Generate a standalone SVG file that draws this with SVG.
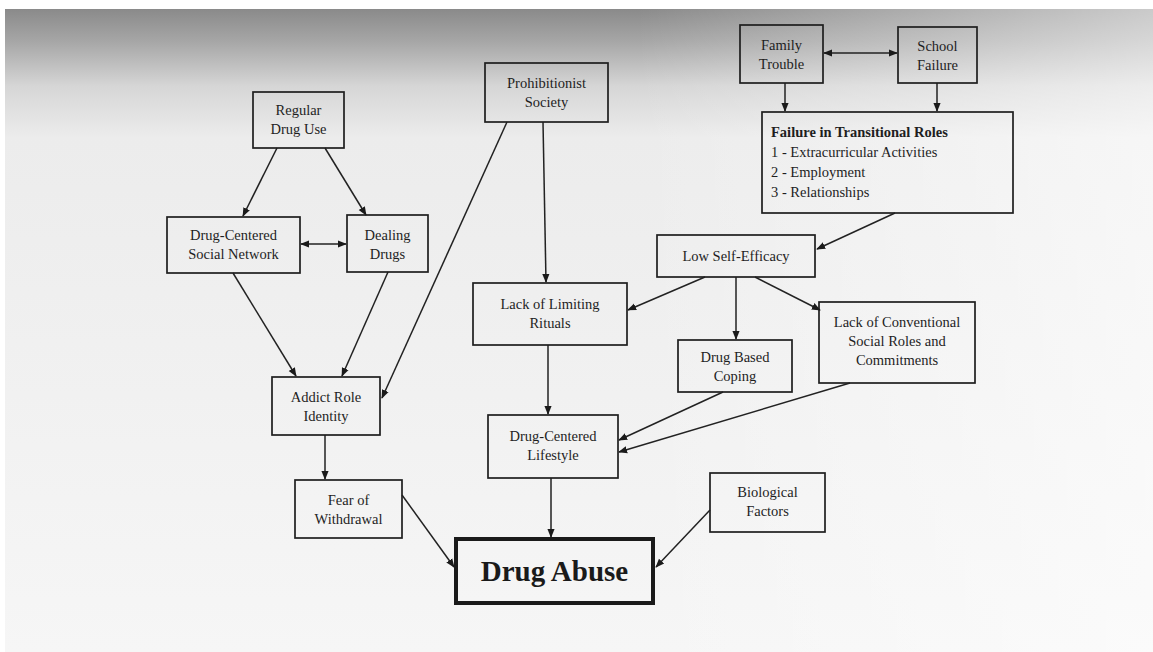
<svg xmlns="http://www.w3.org/2000/svg" width="1153" height="652" viewBox="0 0 1153 652">
<defs>
<linearGradient id="bgv" x1="0" y1="0" x2="0" y2="1">
<stop offset="0" stop-color="#8a8a8a"/>
<stop offset="0.05" stop-color="#a6a6a6"/>
<stop offset="0.12" stop-color="#d6d6d6"/>
<stop offset="0.2" stop-color="#ececec"/>
<stop offset="1" stop-color="#f6f6f6"/>
</linearGradient>
<linearGradient id="bgh" x1="0" y1="0" x2="1" y2="0">
<stop offset="0" stop-color="#ffffff" stop-opacity="0"/>
<stop offset="0.55" stop-color="#ffffff" stop-opacity="0"/>
<stop offset="1" stop-color="#ffffff" stop-opacity="0.55"/>
</linearGradient>
<marker id="ah" viewBox="0 0 10 10" refX="9" refY="5" markerWidth="9" markerHeight="9" markerUnits="userSpaceOnUse" orient="auto-start-reverse">
<path d="M0,1 L10,5 L0,9 Z" fill="#1a1a1a"/>
</marker>
<style>
.box{fill:none;stroke:#1e1e1e;stroke-width:1.7}
.big{fill:none;stroke:#1a1a1a;stroke-width:4}
.t{font-family:"Liberation Serif","Times New Roman",serif;font-size:14.5px;fill:#1e1e1e;text-anchor:middle}
.tl{font-family:"Liberation Serif","Times New Roman",serif;font-size:14.5px;fill:#1e1e1e}
.tb{font-weight:bold}
.huge{font-family:"Liberation Serif","Times New Roman",serif;font-size:29px;font-weight:bold;fill:#1a1a1a;text-anchor:middle}
.c{fill:none;stroke:#222;stroke-width:1.5;marker-end:url(#ah)}
.d{fill:none;stroke:#222;stroke-width:1.5;marker-end:url(#ah);marker-start:url(#ah)}
</style>
</defs>
<rect x="0" y="0" width="1153" height="652" fill="#ffffff"/>
<rect x="5" y="9" width="1148" height="643" fill="url(#bgv)"/>
<rect x="5" y="9" width="1148" height="643" fill="url(#bgh)"/>

<g id="connectors">
<line class="c" x1="277" y1="148" x2="243" y2="216"/>
<line class="c" x1="325" y1="148" x2="366" y2="215"/>
<line class="d" x1="301" y1="244" x2="346" y2="244"/>
<line class="c" x1="233" y1="273" x2="296" y2="376"/>
<line class="c" x1="388" y1="272" x2="342" y2="376"/>
<line class="c" x1="507" y1="122" x2="382" y2="398"/>
<line class="c" x1="543" y1="122" x2="546" y2="282"/>
<line class="d" x1="824" y1="53" x2="897" y2="53"/>
<line class="c" x1="785" y1="83" x2="785" y2="111"/>
<line class="c" x1="937" y1="83" x2="937" y2="111"/>
<line class="c" x1="895" y1="213" x2="817" y2="249"/>
<line class="c" x1="705" y1="277" x2="628" y2="310"/>
<line class="c" x1="736" y1="277" x2="736" y2="339"/>
<line class="c" x1="755" y1="277" x2="820" y2="310"/>
<line class="c" x1="548" y1="345" x2="548" y2="414"/>
<line class="c" x1="723" y1="392" x2="619" y2="440"/>
<line class="c" x1="850" y1="383" x2="619" y2="452"/>
<line class="c" x1="325" y1="435" x2="325" y2="479"/>
<line class="c" x1="402" y1="495" x2="454" y2="567"/>
<line class="c" x1="551" y1="478" x2="551" y2="537"/>
<line class="c" x1="710" y1="510" x2="656" y2="567"/>
</g>

<g id="regular-drug-use">
<rect class="box" x="253" y="92" width="91" height="56"/>
<text class="t" x="298.5" y="115">Regular</text>
<text class="t" x="298.5" y="134">Drug Use</text>
</g>
<g id="social-network">
<rect class="box" x="167" y="217" width="133" height="56"/>
<text class="t" x="233.5" y="240">Drug-Centered</text>
<text class="t" x="233.5" y="259">Social Network</text>
</g>
<g id="dealing-drugs">
<rect class="box" x="347" y="215" width="81" height="57"/>
<text class="t" x="387.5" y="240">Dealing</text>
<text class="t" x="387.5" y="259">Drugs</text>
</g>
<g id="prohibitionist-society">
<rect class="box" x="485" y="63" width="123" height="59"/>
<text class="t" x="546.5" y="88">Prohibitionist</text>
<text class="t" x="546.5" y="107">Society</text>
</g>
<g id="family-trouble">
<rect class="box" x="740" y="25" width="83" height="58"/>
<text class="t" x="781.5" y="50">Family</text>
<text class="t" x="781.5" y="69">Trouble</text>
</g>
<g id="school-failure">
<rect class="box" x="898" y="27" width="79" height="56"/>
<text class="t" x="937.5" y="51">School</text>
<text class="t" x="937.5" y="70">Failure</text>
</g>
<g id="transitional-roles">
<rect class="box" x="762" y="112" width="251" height="101"/>
<text class="tl tb" x="771" y="137">Failure in Transitional Roles</text>
<text class="tl" x="771" y="157">1 - Extracurricular Activities</text>
<text class="tl" x="771" y="177">2 - Employment</text>
<text class="tl" x="771" y="197">3 - Relationships</text>
</g>
<g id="low-self-efficacy">
<rect class="box" x="657" y="235" width="158" height="42"/>
<text class="t" x="736" y="261">Low Self-Efficacy</text>
</g>
<g id="limiting-rituals">
<rect class="box" x="473" y="283" width="154" height="62"/>
<text class="t" x="550" y="309">Lack of Limiting</text>
<text class="t" x="550" y="328">Rituals</text>
</g>
<g id="drug-based-coping">
<rect class="box" x="678" y="340" width="114" height="52"/>
<text class="t" x="735" y="362">Drug Based</text>
<text class="t" x="735" y="381">Coping</text>
</g>
<g id="conventional-roles">
<rect class="box" x="819" y="302" width="156" height="81"/>
<text class="t" x="897" y="327">Lack of Conventional</text>
<text class="t" x="897" y="346">Social Roles and</text>
<text class="t" x="897" y="365">Commitments</text>
</g>
<g id="addict-role-identity">
<rect class="box" x="272" y="377" width="108" height="58"/>
<text class="t" x="326" y="402">Addict Role</text>
<text class="t" x="326" y="421">Identity</text>
</g>
<g id="drug-centered-lifestyle">
<rect class="box" x="488" y="415" width="130" height="63"/>
<text class="t" x="553" y="441">Drug-Centered</text>
<text class="t" x="553" y="460">Lifestyle</text>
</g>
<g id="fear-of-withdrawal">
<rect class="box" x="295" y="480" width="107" height="58"/>
<text class="t" x="348.5" y="505">Fear of</text>
<text class="t" x="348.5" y="524">Withdrawal</text>
</g>
<g id="biological-factors">
<rect class="box" x="710" y="473" width="115" height="59"/>
<text class="t" x="767.5" y="497">Biological</text>
<text class="t" x="767.5" y="516">Factors</text>
</g>
<g id="drug-abuse">
<rect class="big" x="456" y="539" width="197" height="64"/>
<text class="huge" x="554.5" y="581">Drug Abuse</text>
</g>
</svg>
